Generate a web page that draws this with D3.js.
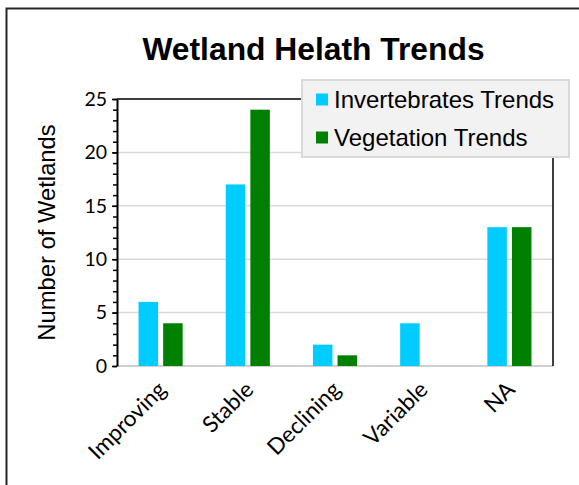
<!DOCTYPE html>
<html>
<head>
<meta charset="utf-8">
<script src="https://cdn.jsdelivr.net/npm/d3@7"></script>
<style>
  html, body { margin: 0; padding: 0; background: #ffffff; }
  svg { display: block; }
</style>
</head>
<body>
<svg id="chart" width="579" height="485"></svg>
<script>
// Wetland trend counts per category
const categories = ["Improving", "Stable", "Declining", "Variable", "NA"];
const seriesNames = ["Invertebrates Trends", "Vegetation Trends"];
const invertebrates = [6, 17, 2, 4, 13];
const vegetation = [4, 24, 1, 0, 13];
const yTicks = [0, 5, 10, 15, 20, 25];
const seriesColors = ["#00ccff", "#008000"];

const svg = d3.select("#chart");
const W = 579, H = 485;
const plot = { left: 117, right: 553, top: 99, bottom: 366 };
const labelFont = "Lato, 'Open Sans', sans-serif";
const arial = "'Liberation Sans', Arial, sans-serif";

svg.append("rect").attr("width", W).attr("height", H).attr("fill", "#ffffff");

// Outer chart frame (left and top edges)
svg.append("path")
  .attr("d", `M6.5,${H} V8.5 H${W}`)
  .attr("fill", "none")
  .attr("stroke", "#262626")
  .attr("stroke-width", 2);

// Title
svg.append("text")
  .attr("x", 313.5).attr("y", 60)
  .attr("text-anchor", "middle")
  .attr("font-family", arial)
  .attr("font-weight", "bold")
  .attr("font-size", 31.8)
  .attr("fill", "#000")
  .text("Wetland Helath Trends");

const x0 = d3.scaleBand().domain(categories).range([plot.left, plot.right]).paddingInner(0).paddingOuter(0);
const x1 = d3.scaleBand().domain(seriesNames).range([0, x0.bandwidth()]).paddingInner(0.207).paddingOuter(0.876);
const y = d3.scaleLinear().domain([0, 25]).range([plot.bottom, plot.top]);

// Gridlines
svg.append("g").selectAll("line")
  .data(yTicks.filter(d => d > 0 && d < 25))
  .join("line")
  .attr("x1", plot.left).attr("x2", plot.right)
  .attr("y1", d => y(d)).attr("y2", d => y(d))
  .attr("stroke", "#d9d9d9").attr("stroke-width", 1.5);

// Bottom (category) axis line
svg.append("line")
  .attr("x1", plot.left).attr("x2", plot.right)
  .attr("y1", plot.bottom).attr("y2", plot.bottom)
  .attr("stroke", "#d0d0d0").attr("stroke-width", 2);

// Plot frame top and right
svg.append("path")
  .attr("d", `M${plot.left},${plot.top} H${plot.right} V${plot.bottom}`)
  .attr("fill", "none")
  .attr("stroke", "#000").attr("stroke-width", 1.5);

// Bars
const rows = categories.map((c, i) => ({ cat: c, vals: [invertebrates[i], vegetation[i]] }));
const groups = svg.append("g").selectAll("g")
  .data(rows).join("g")
  .attr("transform", d => `translate(${x0(d.cat)},0)`);
groups.selectAll("rect")
  .data(d => d.vals.map((v, k) => ({ key: seriesNames[k], v, k })).filter(e => e.v > 0))
  .join("rect")
  .attr("x", d => x1(d.key))
  .attr("width", x1.bandwidth())
  .attr("y", d => y(d.v))
  .attr("height", d => y(0) - y(d.v))
  .attr("fill", d => seriesColors[d.k]);

// Y axis: minor ticks
svg.append("g")
  .attr("transform", `translate(${plot.left},0)`)
  .call(d3.axisLeft(y).tickValues(d3.range(0, 26, 1)).tickSize(4).tickFormat(""))
  .call(g => g.select(".domain").remove())
  .call(g => g.selectAll(".tick line").attr("stroke", "#000").attr("stroke-width", 1.5));

// Y axis: major ticks with labels
svg.append("g")
  .attr("transform", `translate(${plot.left},0)`)
  .call(d3.axisLeft(y).tickValues(yTicks).tickSize(5).tickSizeOuter(0).tickPadding(5))
  .call(g => g.select(".domain").attr("stroke", "#000").attr("stroke-width", 2))
  .call(g => g.selectAll(".tick line").attr("stroke", "#000").attr("stroke-width", 1.5))
  .call(g => g.selectAll(".tick text")
    .attr("font-family", labelFont)
    .attr("font-size", 19.5)
    .attr("fill", "#000"));

// Y axis title
svg.append("text")
  .attr("transform", `translate(55,${(plot.top + plot.bottom) / 2}) rotate(-90)`)
  .attr("text-anchor", "middle")
  .attr("font-family", arial)
  .attr("font-size", 23.8)
  .attr("fill", "#000")
  .text("Number of Wetlands");

// Category labels, rotated
svg.append("g").selectAll("text")
  .data(categories).join("text")
  .attr("transform", d => `translate(${x0(d) + x0.bandwidth() / 2 + 7},391) rotate(-45)`)
  .attr("text-anchor", "end")
  .attr("font-family", labelFont)
  .attr("font-size", 22.5)
  .attr("fill", "#000")
  .text(d => d);

// Legend
const legend = svg.append("g");
legend.append("rect")
  .attr("x", 302).attr("y", 80).attr("width", 267).attr("height", 77)
  .attr("fill", "#f2f2f2").attr("stroke", "#d9d9d9").attr("stroke-width", 2);
const items = legend.selectAll("g.item")
  .data(seriesNames).join("g").attr("class", "item")
  .attr("transform", (d, i) => `translate(316,${93.5 + i * 38})`);
items.append("rect")
  .attr("width", 12).attr("height", 12)
  .attr("fill", (d, i) => seriesColors[i]);
items.append("text")
  .attr("x", 18).attr("y", 14)
  .attr("font-family", arial)
  .attr("font-size", 24)
  .attr("fill", "#000")
  .text(d => d);
</script>
</body>
</html>
